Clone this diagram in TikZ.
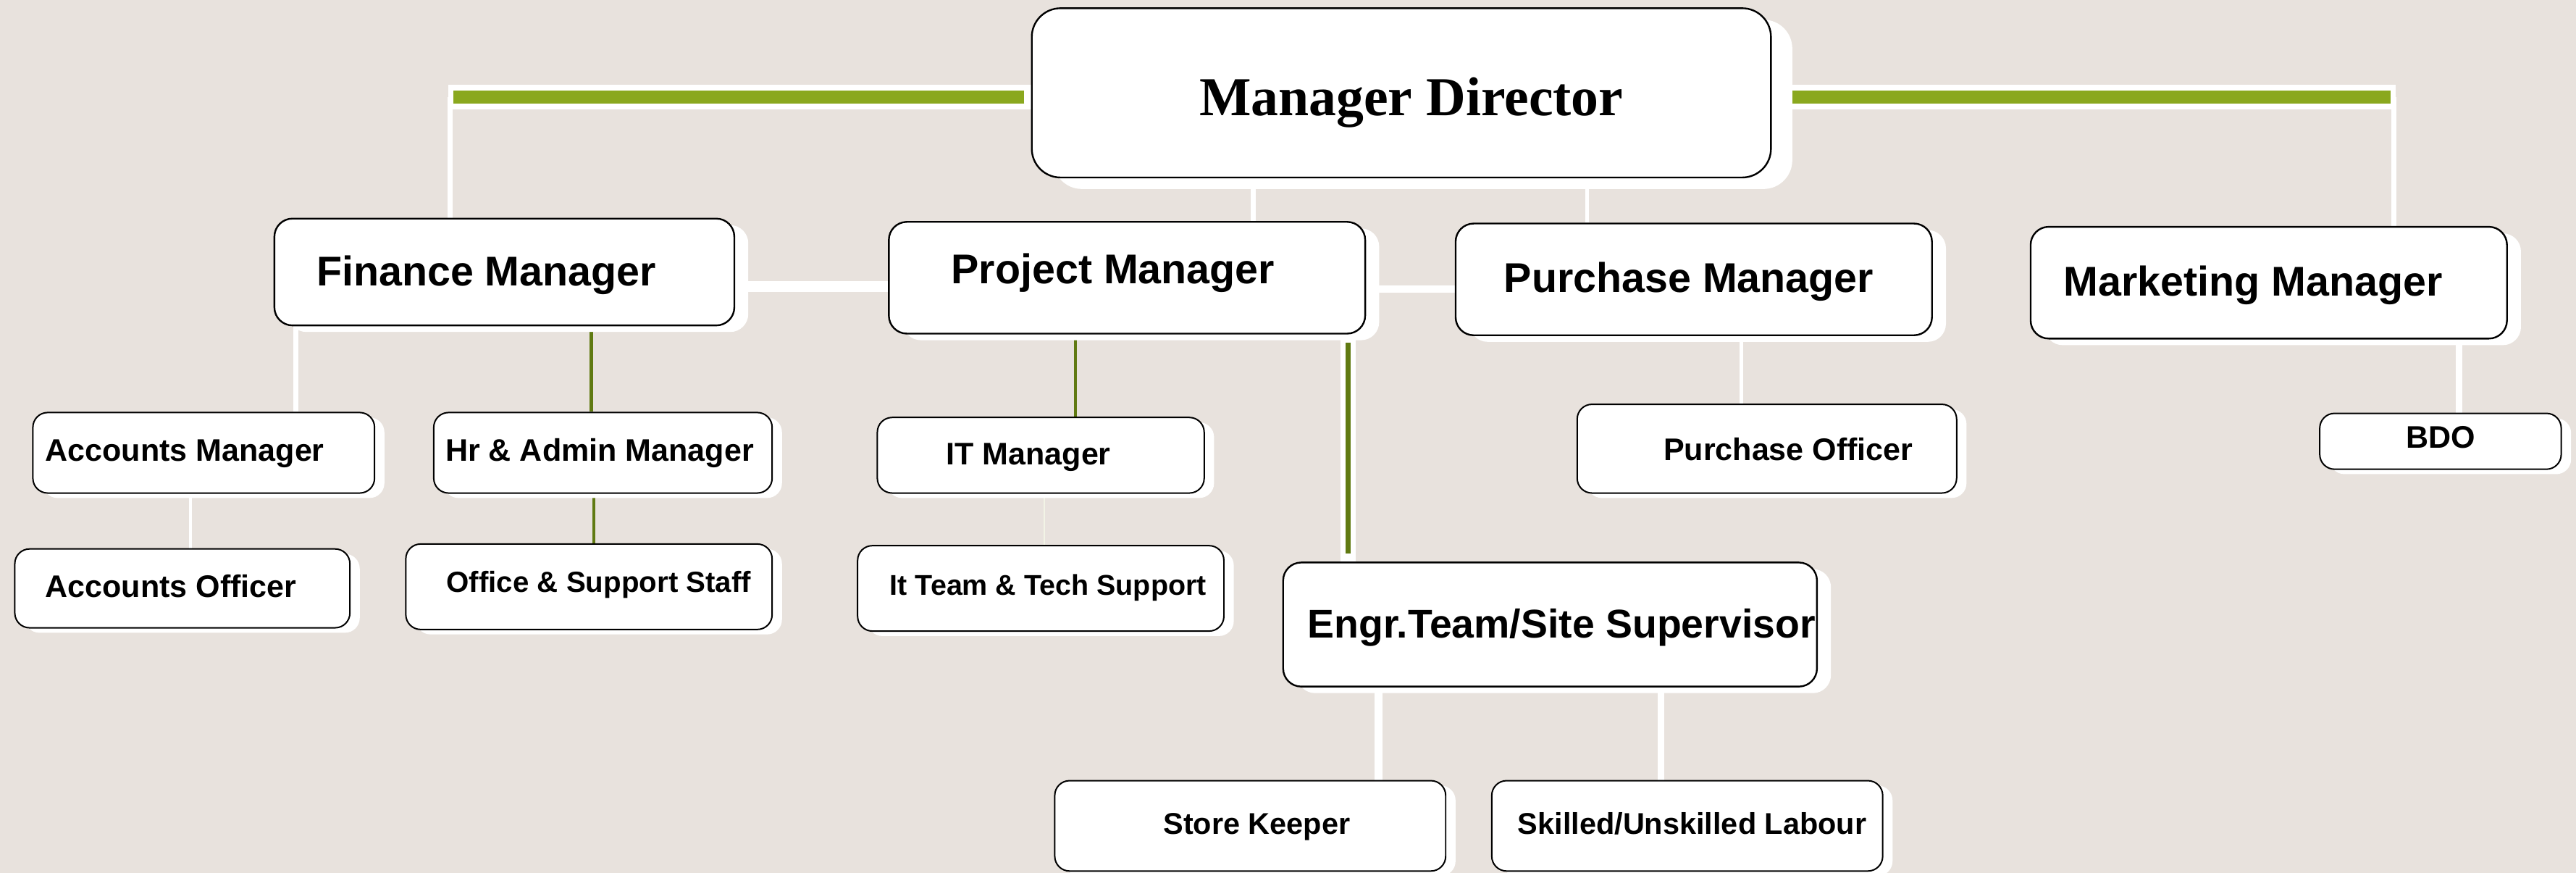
\documentclass[tikz,border=0pt]{standalone}
\usepackage{fontspec}
\setmainfont{Liberation Sans}
\newfontfamily\serifbold{Liberation Serif}
\usetikzlibrary{shadows, backgrounds}
\definecolor{bgPaper}{RGB}{232,226,221}
\definecolor{barGreen}{RGB}{138,168,30}
\definecolor{lineGreen}{RGB}{96,122,18}
\definecolor{paleLine}{RGB}{242,244,230}
\tikzstyle{topNode} = [rectangle, rounded corners=0.35cm, draw=black, line width=0.6pt, fill=white, drop shadow={shadow xshift=0.26cm, shadow yshift=-0.14cm, fill=white, opacity=1}]
\tikzstyle{mgrNode} = [rectangle, rounded corners=0.22cm, draw=black, line width=0.6pt, fill=white, drop shadow={shadow xshift=0.17cm, shadow yshift=-0.08cm, fill=white, opacity=1}]
\tikzstyle{subNode} = [rectangle, rounded corners=0.18cm, draw=black, line width=0.5pt, fill=white, drop shadow={shadow xshift=0.12cm, shadow yshift=-0.06cm, fill=white, opacity=1}]
\tikzstyle{topText} = [text height=0.4cm, text depth=0.12cm, font=\serifbold\bfseries\fontsize{19}{22}\selectfont]
\tikzstyle{mgrText} = [text height=0.3cm, text depth=0.1cm, font=\bfseries\fontsize{14.4}{17}\selectfont]
\tikzstyle{subText} = [text height=0.22cm, text depth=0.08cm, font=\bfseries\fontsize{10.8}{13}\selectfont]
\tikzstyle{wLink} = [draw=white, line width=0.06cm]
\tikzstyle{gLink} = [draw=lineGreen, line width=0.04cm]
\tikzstyle{paleLink} = [draw=paleLine, line width=0.02cm]
\tikzstyle{whiteBar} = [draw=white, line width=0.3cm]
\tikzstyle{greenBar} = [draw=barGreen, line width=0.16cm]

\begin{document}
\begin{tikzpicture}[x=0.02cm, y=-0.02cm]
        \useasboundingbox (0,0) rectangle (1568,531);
        \node (md) [topNode, minimum width=9cm, minimum height=2.06cm, label={[topText, xshift=0.12cm, yshift=-0.14cm]center:Manager Director}] at (853,56.5) {};
        \node (fin) [mgrNode, minimum width=5.6cm, minimum height=1.3cm, label={[mgrText, xshift=-0.22cm, yshift=-0.07cm]center:Finance Manager}] at (307,165.5) {};
        \node (proj) [mgrNode, minimum width=5.8cm, minimum height=1.36cm, label={[mgrText, xshift=-0.17cm, yshift=0.03cm]center:Project Manager}] at (686,169) {};
        \node (purch) [mgrNode, minimum width=5.8cm, minimum height=1.36cm, label={[mgrText, xshift=-0.06cm, yshift=-0.06cm]center:Purchase Manager}] at (1031,170) {};
        \node (mkt) [mgrNode, minimum width=5.8cm, minimum height=1.36cm, label={[mgrText, xshift=-0.19cm, yshift=-0.06cm]center:Marketing Manager}] at (1381,172) {};
        \node (accm) [subNode, minimum width=4.16cm, minimum height=0.98cm, label={[subText, xshift=-0.23cm, yshift=-0.03cm]center:Accounts Manager}] at (124,275.5) {};
        \node (hr) [subNode, minimum width=4.12cm, minimum height=0.98cm, label={[subText, xshift=-0.04cm, yshift=-0.03cm]center:Hr \& Admin Manager}] at (367,275.5) {};
        \node (acco) [subNode, minimum width=4.08cm, minimum height=0.96cm, label={[subText, xshift=-0.14cm, yshift=-0.04cm]center:Accounts Officer}] at (111,358) {};
        \node (office) [subNode, minimum width=4.46cm, minimum height=1.04cm, label={[subText, font=\bfseries\fontsize{10.1}{12}\selectfont, xshift=0.12cm]center:Office \& Support Staff}] at (358.5,357) {};
        \node (itm) [subNode, minimum width=3.98cm, minimum height=0.92cm, label={[subText, xshift=-0.15cm, yshift=-0.05cm]center:IT Manager}] at (633.5,277) {};
        \node (itteam) [subNode, minimum width=4.46cm, minimum height=1.04cm, label={[subText, font=\bfseries\fontsize{9.9}{12}\selectfont, xshift=0.09cm, yshift=-0.01cm]center:It Team \& Tech Support}] at (633.5,358) {};
        \node (engr) [mgrNode, minimum width=6.5cm, minimum height=1.51cm, label={[mgrText, font=\bfseries\fontsize{13.9}{16}\selectfont, xshift=0.14cm, yshift=-0.06cm]center:Engr.Team/Site Supervisor}] at (943.5,380) {};
        \node (pofficer) [subNode, minimum width=4.62cm, minimum height=1.08cm, label={[subText, xshift=0.26cm, yshift=-0.07cm]center:Purchase Officer}] at (1075.5,273) {};
        \node (store) [subNode, minimum width=4.76cm, minimum height=1.1cm, label={[subText, font=\bfseries\fontsize{10.4}{12}\selectfont, xshift=0.08cm, yshift=-0.03cm]center:Store Keeper}] at (761,502.5) {};
        \node (skilled) [subNode, minimum width=4.76cm, minimum height=1.1cm, label={[subText, font=\bfseries\fontsize{10.4}{12}\selectfont, xshift=0.06cm, yshift=-0.03cm]center:Skilled/Unskilled Labour}] at (1027,502.5) {};
        \node (bdo) [subNode, minimum width=2.94cm, minimum height=0.68cm, label={[subText, yshift=-0.01cm]center:BDO}] at (1485.5,268.5) {};

        \begin{scope}[on background layer]
        \fill [bgPaper] (0,0) rectangle (1568,531);
        \coordinate (lbend) at (274,59);
        \coordinate (rbend) at (1457,59);
        \draw [wLink] (lbend) -- (lbend |- fin.north);
        \draw [wLink] (rbend) -- (rbend |- mkt.north);
        \draw [whiteBar] (md.west |- lbend) -- ([xshift=-0.02cm]lbend);
        \draw [greenBar, shorten <=0.08cm, shorten >=0.04cm] (md.west |- lbend) -- (lbend);
        \draw [whiteBar] (md.east |- rbend) -- ([xshift=0.02cm]rbend);
        \draw [greenBar, shorten >=0.04cm] (md.east |- rbend) -- (rbend);
        \draw [wLink] (763,0 |- md.south) -- (763,0 |- proj.north);
        \draw [wLink, line width=0.05cm] (966,0 |- md.south) -- (966,0 |- purch.north);
        \draw [wLink, line width=0.13cm] (fin.east |- 0,174.5) -- (proj.west |- 0,174.5);
        \draw [wLink, line width=0.09cm] (proj.east |- 0,176) -- (purch.west |- 0,176);
        \draw [wLink] (180,0 |- fin.south) -- (180,0 |- accm.north);
        \draw [gLink] (360,0 |- fin.south) -- (360,0 |- hr.north);
        \draw [wLink, line width=0.04cm] (116,0 |- accm.south) -- (116,0 |- acco.north);
        \draw [gLink] (361.5,0 |- hr.south) -- (361.5,0 |- office.north);
        \draw [gLink] (654.6,0 |- proj.south) -- (654.6,0 |- itm.north);
        \draw [paleLink] (635.7,0 |- itm.south) -- (635.7,0 |- itteam.north);
        \draw [wLink, line width=0.18cm] (820.6,0 |- proj.south) -- (820.6,0 |- engr.north);
        \draw [gLink, line width=0.06cm, shorten <=0.1cm, shorten >=0.1cm] (820.6,0 |- proj.south) -- (820.6,0 |- engr.north);
        \draw [wLink, line width=0.05cm] (1060,0 |- purch.south) -- (1060,0 |- pofficer.north);
        \draw [wLink, line width=0.1cm] (839,0 |- engr.south) -- (839,0 |- store.north);
        \draw [wLink, line width=0.08cm] (1011,0 |- engr.south) -- (1011,0 |- skilled.north);
        \draw [wLink, line width=0.08cm] (1496.6,0 |- mkt.south) -- (1496.6,0 |- bdo.north);
        \end{scope}
    \end{tikzpicture}
\end{document}
